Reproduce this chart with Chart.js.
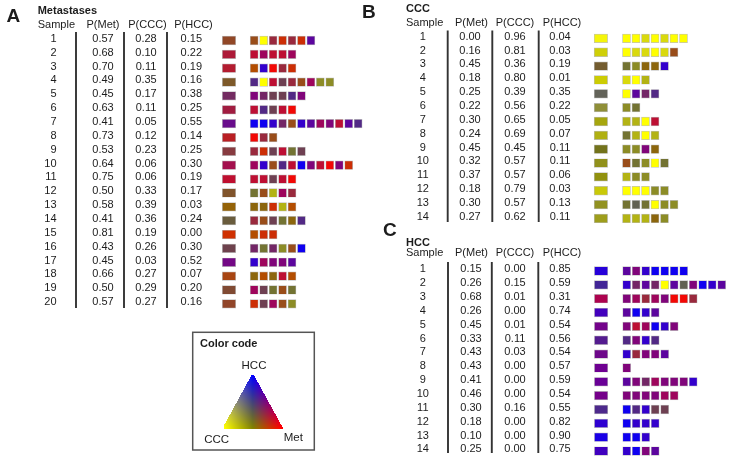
<!DOCTYPE html>
<html><head><meta charset="utf-8">
<script src="https://cdn.jsdelivr.net/npm/chart.js@4/dist/chart.umd.min.js"></script>
<style>html,body{margin:0;padding:0;background:#fff}canvas{display:block}</style>
</head><body>
<canvas id="c" width="736" height="460"></canvas>
<script>
// ================= DATA =================
// Panel A – Metastases
const metSamples = [1,2,3,4,5,6,7,8,9,10,11,12,13,14,15,16,17,18,19,20];
const metPMet = [0.57,0.68,0.70,0.49,0.45,0.63,0.41,0.73,0.53,0.64,0.75,0.50,0.58,0.41,0.81,0.43,0.45,0.66,0.50,0.57];
const metPCCC = [0.28,0.10,0.11,0.35,0.17,0.11,0.05,0.12,0.23,0.06,0.06,0.33,0.39,0.36,0.19,0.26,0.03,0.27,0.29,0.27];
const metPHCC = [0.15,0.22,0.19,0.16,0.38,0.25,0.55,0.14,0.25,0.30,0.19,0.17,0.03,0.24,0.00,0.30,0.52,0.07,0.20,0.16];
const metSquares = ["kYcOcOv","rmrrm","abRcO","sYrqckmoo","pwqqsp","rsqrR","BBbwkbvmprvs","Rck","cOqrgq",
  "mbksrBprRpO","rrqrR","gklmc","nnOla","ckqgns","aOO","wgwokB","bmppv","nanra","mqgkg","Oqmko"];
// Panel B – CCC
const cccSamples = [1,2,3,4,5,6,7,8,9,10,11,12,13,14];
const cccPMet = [0.00,0.16,0.45,0.18,0.25,0.22,0.30,0.24,0.45,0.32,0.37,0.18,0.30,0.27];
const cccPCCC = [0.96,0.81,0.36,0.80,0.39,0.56,0.65,0.69,0.45,0.57,0.57,0.79,0.57,0.62];
const cccPHCC = [0.04,0.03,0.19,0.01,0.35,0.22,0.05,0.07,0.11,0.11,0.06,0.03,0.13,0.11];
const cccSquares = ["YYyYyYY","YyyYyk","gonnb","yYl","Yvws","og","llYr","glYl","oopn","kgoYg","loo","YYYoo","gxgYoo","lllno"];
// Panel C – HCC
const hccSamples = [1,2,3,4,5,6,7,8,9,10,11,12,13,14];
const hccPMet = [0.15,0.26,0.68,0.26,0.45,0.33,0.43,0.43,0.41,0.46,0.30,0.18,0.10,0.25];
const hccPCCC = [0.00,0.15,0.01,0.00,0.01,0.11,0.03,0.00,0.00,0.00,0.16,0.00,0.00,0.00];
const hccPHCC = [0.85,0.59,0.31,0.74,0.54,0.56,0.54,0.57,0.59,0.54,0.55,0.82,0.90,0.75];
const hccSquares = ["vpbBBBB","bwvwYvxpBbv","pmcmpRRc","vBbv","prmBbp","spbs","bcppv","p","vpwmpppb","ppppmm","Bsbqq","Bbbb","BBb","bBpv"];
// estimated class probabilities [Met, CCC, HCC] for the individual squares' codes
const squareClass = {
  Y:[0,1,0], y:[0.1,0.85,0.05], l:[0.22,0.7,0.08], o:[0.3,0.55,0.15], g:[0.35,0.45,0.2], x:[0.3,0.38,0.32],
  n:[0.55,0.4,0.05], k:[0.6,0.3,0.1], a:[0.7,0.3,0], O:[0.8,0.18,0.02], R:[0.95,0.03,0.02], r:[0.74,0.06,0.2],
  c:[0.6,0.16,0.24], m:[0.62,0.02,0.36], p:[0.5,0.02,0.48], w:[0.45,0.15,0.4], q:[0.43,0.25,0.32],
  s:[0.32,0.16,0.52], v:[0.36,0.02,0.62], b:[0.2,0,0.8], B:[0.06,0,0.94]
};
const headers = ["Sample","P(Met)","P(CCC)","P(HCC)"];
const legendLabels = {title:"Color code", top:"HCC", left:"CCC", right:"Met"};

// ================= LAYOUT / STYLE =================
const panels = [
  {letter:"A", title:"Metastases", samples:metSamples, pMet:metPMet, pCCC:metPCCC, pHCC:metPHCC, squares:metSquares,
   L:{letterX:6.5, letterY:17, titleX:37.7, titleY:11, headY:25.3, row0:38.8, dy:13.86, sampleX:56.6, sampleAlign:"right",
      sampleHeadX:37.7, valX:[103,146,191.3], headX:[103,147.5,193.5], lineX:[76,124,167], lineTop:32, lineBot:308,
      bigX0:222.3, sqX0:250.2, sqDx:9.45}},
  {letter:"B", title:"CCC", samples:cccSamples, pMet:cccPMet, pCCC:cccPCCC, pHCC:cccPHCC, squares:cccSquares,
   L:{letterX:362, letterY:13, titleX:406, titleY:8.5, headY:22.7, row0:36.7, dy:13.85, sampleX:422.8, sampleAlign:"center",
      sampleHeadX:406, valX:[470,515,560], headX:[471.5,515,562], lineX:[447.7,492.3,538.7], lineTop:30.5, lineBot:222,
      bigX0:594.2, sqX0:622.5, sqDx:9.5}},
  {letter:"C", title:"HCC", samples:hccSamples, pMet:hccPMet, pCCC:hccPCCC, pHCC:hccPHCC, squares:hccSquares,
   L:{letterX:383, letterY:231, titleX:406, titleY:242.7, headY:253.3, row0:269.3, dy:13.85, sampleX:422.8, sampleAlign:"center",
      sampleHeadX:406, valX:[471,515,560], headX:[471.5,515,562], lineX:[448,491.8,538.3], lineTop:262, lineBot:453,
      bigX0:594.4, sqX0:622.7, sqDx:9.5}}
];
const SQ_OFF = 1.7, BIG_W = 13.4, SQ_W = 8, BAR_H = 8.6;
const legendBox = {x0:192.7, y0:332.3, x1:314.3, y1:450, titleX:200, titleY:344,
  top:[252.7,375], left:[224,427.5], right:[281.5,427.5], topLbl:[254,365.7], leftLbl:[216.7,439.5], rightLbl:[293.3,438]};
const FONT = "'Liberation Sans', Arial, sans-serif";
const TEXT = "#1c1c1c";

function probRGB(met, ccc, hcc) {
  return [Math.round(255*Math.max(met, ccc)), Math.round(255*ccc), Math.round(255*hcc)];
}
function probColor(met, ccc, hcc) { const c = probRGB(met, ccc, hcc); return `rgb(${c[0]},${c[1]},${c[2]})`; }

// ================= DATASETS =================
const datasets = [];
panels.forEach(P => {
  const L = P.L;
  const rowY = i => L.row0 + i * L.dy + SQ_OFF;
  datasets.push({
    type:"bar", indexAxis:"y", grouped:false, barThickness:BAR_H, borderSkipped:false,
    borderWidth:0.7, borderColor:"rgba(70,70,70,0.35)",
    data: P.pMet.map((m,i) => ({x:[L.bigX0, L.bigX0 + BIG_W], y: rowY(i)})),
    backgroundColor: P.pMet.map((m,i) => probColor(P.pMet[i], P.pCCC[i], P.pHCC[i]))
  });
  const pts = [], cols = [];
  P.squares.forEach((row, i) => {
    row.split("").forEach((code, j) => {
      const x0 = L.sqX0 + j * L.sqDx;
      pts.push({x:[x0, x0 + SQ_W], y: rowY(i)});
      const p = squareClass[code];
      cols.push(probColor(p[0], p[1], p[2]));
    });
  });
  datasets.push({
    type:"bar", indexAxis:"y", grouped:false, barThickness:BAR_H, borderSkipped:false,
    borderWidth:0.7, borderColor:"rgba(70,70,70,0.35)", data:pts, backgroundColor:cols
  });
  L.lineX.forEach(lx => {
    datasets.push({type:"line", data:[{x:lx, y:L.lineTop},{x:lx, y:L.lineBot}],
      borderColor:"#333", borderWidth:1.9, pointRadius:0, fill:false, tension:0});
  });
});

// ================= TEXT / LEGEND PLUGIN =================
const tablePlugin = {
  id:"tableText",
  afterDatasetsDraw(chart) {
    const ctx = chart.ctx, sx = chart.scales.x, sy = chart.scales.y;
    const X = v => sx.getPixelForValue(v), Y = v => sy.getPixelForValue(v);
    ctx.save();
    ctx.fillStyle = TEXT;
    ctx.textBaseline = "middle";
    panels.forEach(P => {
      const L = P.L;
      ctx.font = `bold 19px ${FONT}`; ctx.textAlign = "left";
      ctx.fillText(P.letter, X(L.letterX), Y(L.letterY));
      ctx.font = `bold 11px ${FONT}`;
      ctx.fillText(P.title, X(L.titleX), Y(L.titleY));
      ctx.font = `11px ${FONT}`;
      ctx.fillText(headers[0], X(L.sampleHeadX), Y(L.headY));
      ctx.textAlign = "center";
      for (let k = 1; k < 4; k++) ctx.fillText(headers[k], X(L.headX[k-1]), Y(L.headY));
      P.samples.forEach((s, i) => {
        const y = Y(L.row0 + i * L.dy);
        ctx.textAlign = L.sampleAlign;
        ctx.fillText(String(s), X(L.sampleX), y);
        ctx.textAlign = "center";
        ctx.fillText(P.pMet[i].toFixed(2), X(L.valX[0]), y);
        ctx.fillText(P.pCCC[i].toFixed(2), X(L.valX[1]), y);
        ctx.fillText(P.pHCC[i].toFixed(2), X(L.valX[2]), y);
      });
    });
    // legend box
    const B = legendBox;
    ctx.strokeStyle = "#555"; ctx.lineWidth = 1.5;
    ctx.strokeRect(X(B.x0), Y(B.y0), X(B.x1) - X(B.x0), Y(B.y1) - Y(B.y0));
    ctx.fillStyle = TEXT; ctx.font = `bold 11px ${FONT}`; ctx.textAlign = "left";
    ctx.fillText(legendLabels.title, X(B.titleX), Y(B.titleY));
    ctx.font = `11.5px ${FONT}`; ctx.textAlign = "center";
    ctx.fillText(legendLabels.top, X(B.topLbl[0]), Y(B.topLbl[1]));
    ctx.fillText(legendLabels.left, X(B.leftLbl[0]), Y(B.leftLbl[1]));
    ctx.fillText(legendLabels.right, X(B.rightLbl[0]), Y(B.rightLbl[1]));
    // colour triangle: barycentric (HCC top, CCC left, Met right)
    const H = [X(B.top[0]), Y(B.top[1])], C = [X(B.left[0]), Y(B.left[1])], M = [X(B.right[0]), Y(B.right[1])];
    const minX = Math.floor(Math.min(H[0],C[0],M[0])), maxX = Math.ceil(Math.max(H[0],C[0],M[0]));
    const minY = Math.floor(Math.min(H[1],C[1],M[1])), maxY = Math.ceil(Math.max(H[1],C[1],M[1]));
    const w = maxX - minX + 1, h = maxY - minY + 1;
    const off = document.createElement("canvas"); off.width = w; off.height = h;
    const octx = off.getContext("2d"); const img = octx.createImageData(w, h);
    const det = (C[1]-M[1])*(H[0]-M[0]) + (M[0]-C[0])*(H[1]-M[1]);
    for (let py = 0; py < h; py++) for (let px = 0; px < w; px++) {
      const x = minX + px + 0.5, y = minY + py + 0.5;
      const wh = ((C[1]-M[1])*(x-M[0]) + (M[0]-C[0])*(y-M[1])) / det;
      const wc = ((M[1]-H[1])*(x-M[0]) + (H[0]-M[0])*(y-M[1])) / det;
      const wm = 1 - wh - wc;
      if (wh < -0.02 || wc < -0.02 || wm < -0.02) continue;
      const c = probRGB(Math.max(0,wm), Math.max(0,wc), Math.max(0,wh));
      const idx = (py*w + px) * 4;
      img.data[idx] = c[0]; img.data[idx+1] = c[1]; img.data[idx+2] = c[2]; img.data[idx+3] = 255;
    }
    octx.putImageData(img, 0, 0);
    ctx.drawImage(off, minX, minY);
    ctx.restore();
  }
};

new Chart(document.getElementById("c"), {
  type:"bar",
  data:{datasets},
  options:{
    responsive:false, animation:false, devicePixelRatio:1,
    layout:{padding:0},
    plugins:{legend:{display:false}, tooltip:{enabled:false}},
    scales:{
      x:{type:"linear", min:0, max:736, display:false, offset:false, grid:{display:false}},
      y:{type:"linear", min:0, max:460, reverse:true, display:false, offset:false, grid:{display:false}}
    }
  },
  plugins:[tablePlugin]
});
</script>
</body></html>
